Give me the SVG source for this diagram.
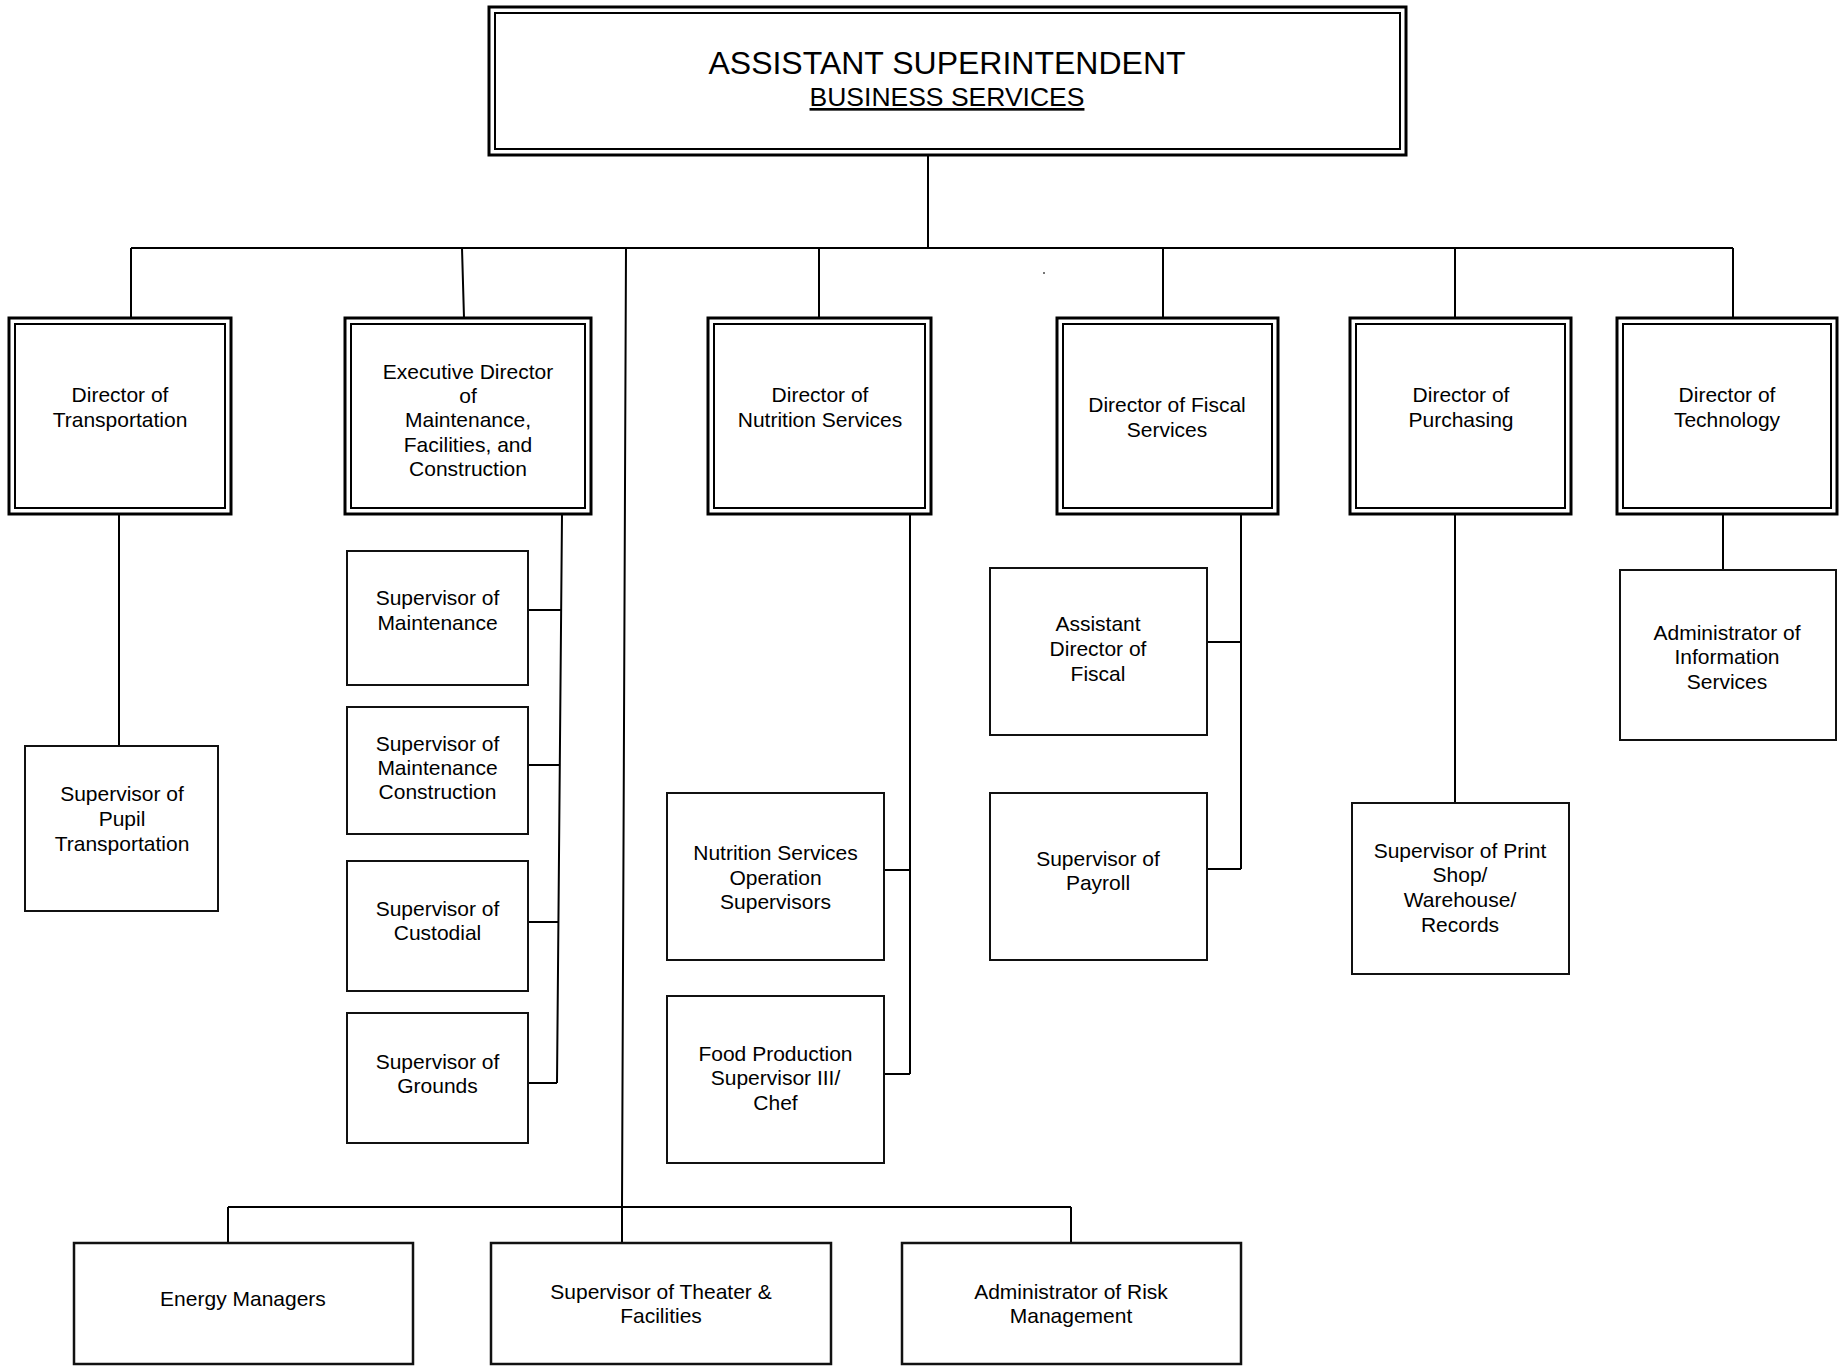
<svg xmlns="http://www.w3.org/2000/svg" width="1839" height="1366" viewBox="0 0 1839 1366">
<style>
.dbl-o{fill:#fff;stroke:#000;stroke-width:3}
.dbl-i{fill:none;stroke:#000;stroke-width:2}
.box{fill:#fff;stroke:#111;stroke-width:2}
.bot{fill:#fff;stroke:#111;stroke-width:2.5}
.ln{fill:none;stroke:#000;stroke-width:2}
text{font-family:"Liberation Sans",Arial,sans-serif;font-size:21px;text-anchor:middle;fill:#000}
.t1{font-size:32px}
.t2{font-size:26.5px;text-decoration:underline}
</style>
<rect width="1839" height="1366" fill="#fff"/>
<g id="connectors" class="ln">
<path d="M928 155V248M131 248H1733M131 248V318M462 248L464 318M819 248V318M1163 248V318M1455 248V318M1733 248V318"/>
<path d="M626 248L622 1207M228 1207H1071M228 1207V1243M622 1207V1243M1071 1207V1243"/>
<path d="M119 514V746"/>
<path d="M562 514L557 1083M528 610H561M528 765H560M528 922H558M528 1083H557"/>
<path d="M910 514V1074M884 870H910M884 1074H910"/>
<path d="M1241 514V869M1207 642H1241M1207 869H1241"/>
<path d="M1455 514V803"/>
<path d="M1723 514V570"/>
</g>
<g id="asst-superintendent">
<rect class="dbl-o" x="489" y="7" width="917" height="148"/>
<rect class="dbl-i" x="495" y="13" width="905" height="136"/>
<text class="t1" x="947" y="74">ASSISTANT SUPERINTENDENT</text>
<text class="t2" x="947" y="106">BUSINESS SERVICES</text>
</g>
<g id="dir-transportation">
<rect class="dbl-o" x="9" y="318" width="222" height="196"/>
<rect class="dbl-i" x="15" y="324" width="210" height="184"/>
<text x="120" y="402">Director of</text>
<text x="120" y="427">Transportation</text>
</g>
<g id="exec-director-maintenance">
<rect class="dbl-o" x="345" y="318" width="246" height="196"/>
<rect class="dbl-i" x="351" y="324" width="234" height="184"/>
<text x="468" y="379">Executive Director</text>
<text x="468" y="403">of</text>
<text x="468" y="427">Maintenance,</text>
<text x="468" y="452">Facilities, and</text>
<text x="468" y="476">Construction</text>
</g>
<g id="dir-nutrition">
<rect class="dbl-o" x="708" y="318" width="223" height="196"/>
<rect class="dbl-i" x="714" y="324" width="211" height="184"/>
<text x="820" y="402">Director of</text>
<text x="820" y="427">Nutrition Services</text>
</g>
<g id="dir-fiscal">
<rect class="dbl-o" x="1057" y="318" width="221" height="196"/>
<rect class="dbl-i" x="1063" y="324" width="209" height="184"/>
<text x="1167" y="412">Director of Fiscal</text>
<text x="1167" y="437">Services</text>
</g>
<g id="dir-purchasing">
<rect class="dbl-o" x="1350" y="318" width="221" height="196"/>
<rect class="dbl-i" x="1356" y="324" width="209" height="184"/>
<text x="1461" y="402">Director of</text>
<text x="1461" y="427">Purchasing</text>
</g>
<g id="dir-technology">
<rect class="dbl-o" x="1617" y="318" width="220" height="196"/>
<rect class="dbl-i" x="1623" y="324" width="208" height="184"/>
<text x="1727" y="402">Director of</text>
<text x="1727" y="427">Technology</text>
</g>
<g id="sup-pupil-transportation">
<rect class="box" x="25" y="746" width="193" height="165"/>
<text x="122" y="801">Supervisor of</text>
<text x="122" y="826">Pupil</text>
<text x="122" y="851">Transportation</text>
</g>
<g id="sup-maintenance">
<rect class="box" x="347" y="551" width="181" height="134"/>
<text x="437.5" y="605">Supervisor of</text>
<text x="437.5" y="630">Maintenance</text>
</g>
<g id="sup-maintenance-construction">
<rect class="box" x="347" y="707" width="181" height="127"/>
<text x="437.5" y="751">Supervisor of</text>
<text x="437.5" y="775">Maintenance</text>
<text x="437.5" y="799">Construction</text>
</g>
<g id="sup-custodial">
<rect class="box" x="347" y="861" width="181" height="130"/>
<text x="437.5" y="916">Supervisor of</text>
<text x="437.5" y="940">Custodial</text>
</g>
<g id="sup-grounds">
<rect class="box" x="347" y="1013" width="181" height="130"/>
<text x="437.5" y="1069">Supervisor of</text>
<text x="437.5" y="1093">Grounds</text>
</g>
<g id="nutrition-op-supervisors">
<rect class="box" x="667" y="793" width="217" height="167"/>
<text x="775.5" y="860">Nutrition Services</text>
<text x="775.5" y="885">Operation</text>
<text x="775.5" y="909">Supervisors</text>
</g>
<g id="food-production-supervisor">
<rect class="box" x="667" y="996" width="217" height="167"/>
<text x="775.5" y="1061">Food Production</text>
<text x="775.5" y="1085">Supervisor III/</text>
<text x="775.5" y="1110">Chef</text>
</g>
<g id="asst-dir-fiscal">
<rect class="box" x="990" y="568" width="217" height="167"/>
<text x="1098" y="631">Assistant</text>
<text x="1098" y="656">Director of</text>
<text x="1098" y="681">Fiscal</text>
</g>
<g id="sup-payroll">
<rect class="box" x="990" y="793" width="217" height="167"/>
<text x="1098" y="866">Supervisor of</text>
<text x="1098" y="890">Payroll</text>
</g>
<g id="sup-print-shop">
<rect class="box" x="1352" y="803" width="217" height="171"/>
<text x="1460" y="858">Supervisor of Print</text>
<text x="1460" y="882">Shop/</text>
<text x="1460" y="907">Warehouse/</text>
<text x="1460" y="932">Records</text>
</g>
<g id="admin-info-services">
<rect class="box" x="1620" y="570" width="216" height="170"/>
<text x="1727" y="640">Administrator of</text>
<text x="1727" y="664">Information</text>
<text x="1727" y="689">Services</text>
</g>
<g id="energy-managers">
<rect class="bot" x="74" y="1243" width="339" height="121"/>
<text x="243" y="1306">Energy Managers</text>
</g>
<g id="sup-theater">
<rect class="bot" x="491" y="1243" width="340" height="121"/>
<text x="661" y="1299">Supervisor of Theater &amp;</text>
<text x="661" y="1323">Facilities</text>
</g>
<g id="admin-risk">
<rect class="bot" x="902" y="1243" width="339" height="121"/>
<text x="1071" y="1299">Administrator of Risk</text>
<text x="1071" y="1323">Management</text>
</g>
<rect x="1043" y="272" width="2" height="2" fill="#777"/>
</svg>
